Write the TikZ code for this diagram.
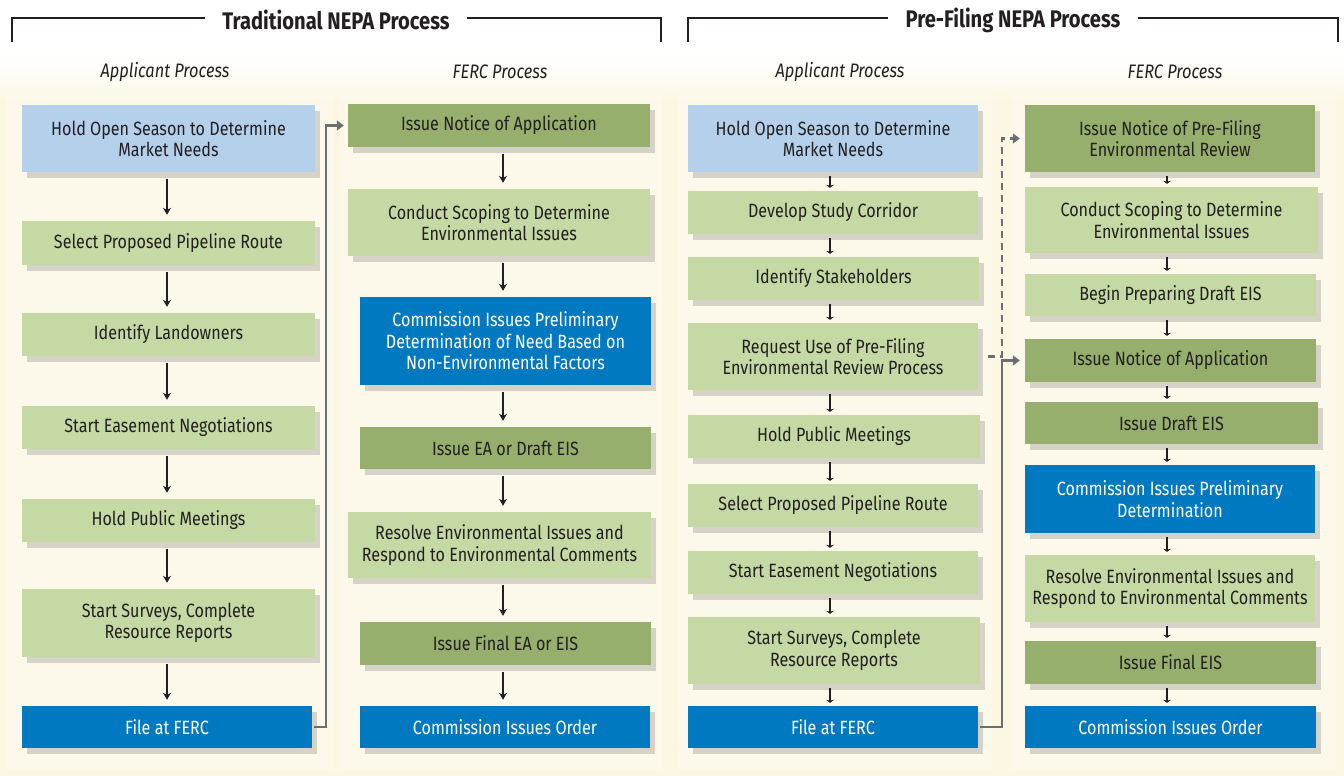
\documentclass[tikz,border=0pt]{standalone}
\usepackage{fontspec}
\setmainfont{Fira Sans}[FakeStretch=0.84]
\usetikzlibrary{arrows.meta,shadows}
\definecolor{cream}{HTML}{FBF7E3}
\definecolor{lblue}{HTML}{B5D0EB}
\definecolor{lgreen}{HTML}{C5D9A5}
\definecolor{dgreen}{HTML}{97AF6D}
\definecolor{dblue}{HTML}{0079C1}
\definecolor{ink}{HTML}{231F20}
\definecolor{conn}{HTML}{6D6E71}
\newcommand\mybox[7]{\node[#2, minimum width={(#5-#3)*1pt}, minimum height={(#6-#4)*1pt}] (#1) at ({(#3+#5)/2},{(#4+#6)/2}) {#7};}
\begin{document}
\begin{tikzpicture}[x=1pt,y=-1pt,
  boxbase/.style={inner sep=0pt, align=center, text=ink,
    font=\fontsize{19.2}{21.5}\selectfont,
    drop shadow={shadow xshift=5pt, shadow yshift=-6pt, opacity=0.22, fill=black!70}},
  bluebox/.style={boxbase, fill=lblue},
  lgbox/.style={boxbase, fill=lgreen},
  dgbox/.style={boxbase, fill=dgreen},
  dbbox/.style={boxbase, fill=dblue, text=white},
  arr/.style={draw=ink, line width=1.4pt, -{Stealth[length=7pt,width=8pt]}},
  sarr/.style={draw=ink, line width=1.1pt, -{Stealth[length=3pt,width=8pt]}},
  gline/.style={draw=conn, line width=2.6pt, -{Triangle[length=7pt,width=10pt]}},
  gdash/.style={draw=conn, line width=2.4pt, dash pattern=on 7pt off 5pt, -{Triangle[length=7pt,width=10pt]}},
  brk/.style={draw=ink, line width=2.2pt},
  title/.style={font=\fontsize{24}{28}\selectfont\bfseries, text=ink},
  sub/.style={font=\fontsize{19.5}{22}\selectfont\itshape, text=ink}
]
\useasboundingbox (0,0) rectangle (1344,776);
% background
\fill[cream] (0,0) rectangle (1344,776);
\fill[white] (0,0) rectangle (1344,60);
\shade[top color=white, bottom color=cream] (0,59) rectangle (1344,100);
\foreach \xa/\xb in {5/333, 340/662, 678/992, 1012/1336}
  \fill[white, opacity=0.3] (\xa,95) rectangle (\xb,770);

% titles and brackets
\node[title] (t1) at (336,20) {Traditional NEPA Process};
\node[title] (t2) at (1013,20) {Pre-Filing NEPA Process};
\draw[brk] (12,42) -- (12,18) -- ([xshift=-14pt]t1.west |- 0,18);
\draw[brk] ([xshift=14pt]t1.east |- 0,18) -- (661,18) -- (661,42);
\draw[brk] (688,42) -- (688,18) -- ([xshift=-14pt]t2.west |- 0,18);
\draw[brk] ([xshift=14pt]t2.east |- 0,18) -- (1338,18) -- (1338,42);

\node[sub] (s1) at (165,72) {Applicant Process};
\node[sub] (s2) at (500,72) {FERC Process};
\node[sub] (s3) at (840,72) {Applicant Process};
\node[sub] (s4) at (1175,72) {FERC Process};

% Traditional - applicant
\mybox{a1}{bluebox}{22}{105}{315}{172}{Hold Open Season to Determine\\Market Needs}
\mybox{a2}{lgbox}{22}{221}{315}{265}{Select Proposed Pipeline Route}
\mybox{a3}{lgbox}{22}{313}{315}{356}{Identify Landowners}
\mybox{a4}{lgbox}{22}{406}{315}{449}{Start Easement Negotiations}
\mybox{a5}{lgbox}{22}{499}{315}{542}{Hold Public Meetings}
\mybox{a6}{lgbox}{22}{589}{315}{657}{Start Surveys, Complete\\Resource Reports}
\mybox{a7}{dbbox}{22}{706}{312}{748}{File at FERC}

% Traditional - FERC
\mybox{b1}{dgbox}{348}{104}{650}{147}{Issue Notice of Application}
\mybox{b2}{lgbox}{348}{189}{650}{256}{Conduct Scoping to Determine\\Environmental Issues}
\mybox{b3}{dbbox}{360}{297}{651}{385}{Commission Issues Preliminary\\Determination of Need Based on\\Non-Environmental Factors}
\mybox{b4}{dgbox}{360}{427}{651}{469}{Issue EA or Draft EIS}
\mybox{b5}{lgbox}{348}{512}{651}{578}{Resolve Environmental Issues and\\Respond to Environmental Comments}
\mybox{b6}{dgbox}{360}{622}{651}{665}{Issue Final EA or EIS}
\mybox{b7}{dbbox}{360}{706}{650}{748}{Commission Issues Order}

% Pre-filing - applicant
\mybox{c1}{bluebox}{688}{105}{978}{172}{Hold Open Season to Determine\\Market Needs}
\mybox{c2}{lgbox}{688}{191}{978}{234}{Develop Study Corridor}
\mybox{c3}{lgbox}{688}{257}{979}{300}{Identify Stakeholders}
\mybox{c4}{lgbox}{688}{323}{978}{390}{Request Use of Pre-Filing\\Environmental Review Process}
\mybox{c5}{lgbox}{688}{415}{980}{458}{Hold Public Meetings}
\mybox{c6}{lgbox}{688}{484}{978}{527}{Select Proposed Pipeline Route}
\mybox{c7}{lgbox}{688}{551}{978}{594}{Start Easement Negotiations}
\mybox{c8}{lgbox}{688}{617}{980}{684}{Start Surveys, Complete\\Resource Reports}
\mybox{c9}{dbbox}{688}{706}{978}{748}{File at FERC}

% Pre-filing - FERC
\mybox{d1}{dgbox}{1025}{105}{1315}{172}{Issue Notice of Pre-Filing\\Environmental Review}
\mybox{d2}{lgbox}{1025}{187}{1318}{253}{Conduct Scoping to Determine\\Environmental Issues}
\mybox{d3}{lgbox}{1025}{274}{1316}{316}{Begin Preparing Draft EIS}
\mybox{d4}{dgbox}{1025}{339}{1316}{382}{Issue Notice of Application}
\mybox{d5}{dgbox}{1025}{402}{1318}{444}{Issue Draft EIS}
\mybox{d6}{dbbox}{1025}{465}{1315}{533}{Commission Issues Preliminary\\Determination}
\mybox{d7}{lgbox}{1025}{555}{1315}{622}{Resolve Environmental Issues and\\Respond to Environmental Comments}
\mybox{d8}{dgbox}{1025}{641}{1316}{684}{Issue Final EIS}
\mybox{d9}{dbbox}{1025}{706}{1316}{748}{Commission Issues Order}

% column axes for arrows
\coordinate (xa) at (167,0);
\coordinate (xb) at (503,0);
\coordinate (xc) at (830,0);
\coordinate (xd) at (1167,0);

\foreach \p/\q in {a1/a2,a2/a3,a3/a4,a4/a5,a5/a6,a6/a7}
  \draw[arr] ([yshift=-7pt]\p.south -| xa) -- ([yshift=6pt]\q.north -| xa);
\foreach \p/\q in {b1/b2,b2/b3,b3/b4,b4/b5,b5/b6,b6/b7}
  \draw[arr] ([yshift=-7pt]\p.south -| xb) -- ([yshift=6pt]\q.north -| xb);
\foreach \p/\q in {c1/c2,c2/c3,c3/c4,c4/c5,c5/c6,c6/c7,c7/c8,c8/c9}
  \draw[sarr] ([yshift=-4pt]\p.south -| xc) -- ([yshift=3pt]\q.north -| xc);
\foreach \p/\q in {d1/d2,d2/d3,d3/d4,d4/d5,d5/d6,d6/d7,d7/d8,d8/d9}
  \draw[sarr] ([yshift=-4pt]\p.south -| xd) -- ([yshift=3pt]\q.north -| xd);

% cross connectors
\coordinate (va) at (326,0);
\coordinate (vc) at (1002,0);
\draw[gline] ([xshift=2pt]a7.east) -| (va |- b1.west) -- ([xshift=-4pt]b1.west);
\draw[gdash] ([xshift=10pt]c4.east) -| (vc |- d1.west) -- ([xshift=-5pt]d1.west);
\draw[gline] ([xshift=2pt]c9.east) -| (vc |- d4.west) -- ([xshift=-5pt]d4.west);
\end{tikzpicture}
\end{document}
